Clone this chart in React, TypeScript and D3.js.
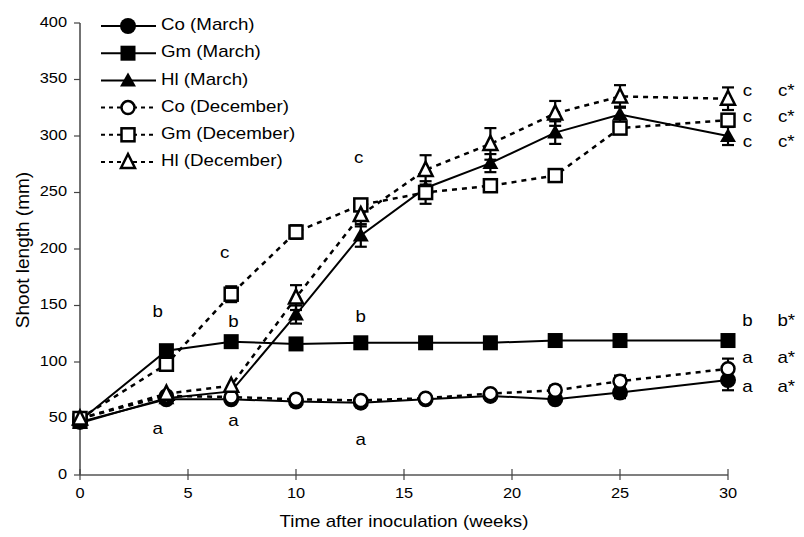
import React from 'react'
import * as d3 from 'd3'

const weeks = [0, 4, 7, 10, 13, 16, 19, 22, 25, 30]

const coMarch = [47, 67, 67, 65, 64, 67, 70, 67, 73, 84]
const gmMarch = [48, 110, 118, 116, 117, 117, 117, 119, 119, 119]
const hlMarch = [46, 68, 74, 142, 212, 254, 276, 303, 319, 300]
const coDec = [50, 70, 69, 67, 66, 68, 72, 75, 83, 94]
const gmDec = [50, 98, 160, 215, 239, 250, 256, 265, 307, 314]
const hlDec = [50, 72, 79, 157, 230, 270, 293, 320, 335, 333]

const coMarchErr = [0, 0, 0, 0, 0, 0, 0, 0, 5, 9]
const gmMarchErr = [0, 0, 0, 0, 0, 0, 0, 0, 0, 0]
const hlMarchErr = [0, 3, 0, 8, 10, 0, 8, 10, 7, 8]
const coDecErr = [0, 0, 0, 0, 0, 0, 3, 4, 5, 9]
const gmDecErr = [0, 0, 7, 6, 4, 10, 0, 0, 0, 0]
const hlDecErr = [0, 0, 0, 11, 10, 13, 14, 11, 10, 10]

const xTicks = [0, 5, 10, 15, 20, 25, 30]
const yTicks = [0, 50, 100, 150, 200, 250, 300, 350, 400]

// letters written in the plot, placed in data units
const noteText = ['c', 'b', 'b', 'c', 'b', 'a', 'a', 'a']
const noteWeek = [6.7, 3.6, 7.1, 12.9, 13, 3.6, 7.1, 13]
const noteValue = [196, 144, 135, 280, 139, 40, 47, 30]

// column of letters at the right end
const sideText = ['c', 'c', 'c', 'b', 'a', 'a']
const sideStar = ['c*', 'c*', 'c*', 'b*', 'a*', 'a*']
const sideValue = [339, 316, 294, 136, 103, 77]

const FONT = '"Liberation Sans", Arial, sans-serif'
const SX = 1.17

type Kind = 'circle' | 'square' | 'triangle'

const series = [
  { name: 'Co (March)', values: coMarch, err: coMarchErr, kind: 'circle' as Kind, open: false },
  { name: 'Gm (March)', values: gmMarch, err: gmMarchErr, kind: 'square' as Kind, open: false },
  { name: 'Hl (March)', values: hlMarch, err: hlMarchErr, kind: 'triangle' as Kind, open: false },
  { name: 'Co (December)', values: coDec, err: coDecErr, kind: 'circle' as Kind, open: true },
  { name: 'Gm (December)', values: gmDec, err: gmDecErr, kind: 'square' as Kind, open: true },
  { name: 'Hl (December)', values: hlDec, err: hlDecErr, kind: 'triangle' as Kind, open: true },
]

const Marker = ({ x, y, kind, open }: { x: number; y: number; kind: Kind; open: boolean }) => {
  const fill = open ? '#fff' : '#000'
  const sw = open ? 2.5 : 0
  if (kind === 'circle') {
    return <circle cx={x} cy={y} r={open ? 6.5 : 8} fill={fill} stroke="#000" strokeWidth={sw} />
  }
  if (kind === 'square') {
    const s = open ? 13 : 15
    return <rect x={x - s / 2} y={y - s / 2} width={s} height={s} fill={fill} stroke="#000" strokeWidth={sw} />
  }
  const w = open ? 7 : 8
  return (
    <path
      d={`M${x},${y - 8} L${x + w},${y + 6} L${x - w},${y + 6} Z`}
      fill={fill}
      stroke="#000"
      strokeWidth={sw}
      strokeLinejoin="miter"
    />
  )
}

const Txt = ({ x, y, size, anchor = 'middle', children }: any) => (
  <g transform={`translate(${x},${y}) scale(${SX},1)`}>
    <text textAnchor={anchor} dominantBaseline="middle" fontSize={size} fontFamily={FONT} fill="#000">
      {children}
    </text>
  </g>
)

export default function App() {
  const x = d3.scaleLinear().domain([0, 30]).range([80, 728])
  const y = d3.scaleLinear().domain([0, 400]).range([475, 23])

  const line = (vals: number[]) =>
    d3
      .line<number>()
      .x((_, i) => x(weeks[i]))
      .y((d) => y(d))(vals) || ''

  return (
    <svg width={804} height={537} style={{ position: 'absolute', left: 0, top: 0, background: '#fff' }}>
      {/* axes */}
      <line x1={80} x2={80} y1={y(400)} y2={y(0)} stroke="#444" strokeWidth={1.5} />
      <line x1={x(0)} x2={x(30)} y1={y(0)} y2={y(0)} stroke="#555" strokeWidth={1.5} />
      {yTicks.map((t) => (
        <g key={'y' + t}>
          <line x1={74} x2={80} y1={y(t)} y2={y(t)} stroke="#444" strokeWidth={1.2} />
          <Txt x={67} y={y(t)} size={14} anchor="end">
            {t}
          </Txt>
        </g>
      ))}
      {xTicks.map((t) => (
        <g key={'x' + t}>
          <line x1={x(t)} x2={x(t)} y1={y(0) - 6} y2={y(0) + 5} stroke="#444" strokeWidth={1.2} />
          <Txt x={x(t)} y={494} size={14}>
            {t}
          </Txt>
        </g>
      ))}
      <Txt x={404} y={523} size={16}>
        Time after inoculation (weeks)
      </Txt>
      <text
        transform="translate(29,250) rotate(-90)"
        textAnchor="middle"
        fontSize={19}
        fontFamily={FONT}
        fill="#000"
      >
        Shoot length (mm)
      </text>

      {/* lines */}
      {series.map((s) => (
        <path
          key={'l' + s.name}
          d={line(s.values)}
          fill="none"
          stroke="#000"
          strokeWidth={s.open ? 2.5 : 2}
          strokeDasharray={s.open ? '5,5' : undefined}
        />
      ))}

      {/* error bars */}
      {series.map((s) =>
        s.values.map((v, i) =>
          s.err[i] > 0 ? (
            <g key={'e' + s.name + i} stroke="#000" strokeWidth={2.2}>
              <line x1={x(weeks[i])} x2={x(weeks[i])} y1={y(v - s.err[i])} y2={y(v + s.err[i])} />
              <line x1={x(weeks[i]) - 6} x2={x(weeks[i]) + 6} y1={y(v - s.err[i])} y2={y(v - s.err[i])} />
              <line x1={x(weeks[i]) - 6} x2={x(weeks[i]) + 6} y1={y(v + s.err[i])} y2={y(v + s.err[i])} />
            </g>
          ) : null
        )
      )}

      {/* markers */}
      {series.map((s) =>
        s.values.map((v, i) => (
          <Marker key={'m' + s.name + i} x={x(weeks[i])} y={y(v)} kind={s.kind} open={s.open} />
        ))
      )}

      {/* letters */}
      {noteText.map((t, i) => (
        <Txt key={'n' + i} x={x(noteWeek[i])} y={y(noteValue[i])} size={16}>
          {t}
        </Txt>
      ))}
      {sideText.map((t, i) => (
        <g key={'s' + i}>
          <Txt x={x(30.9)} y={y(sideValue[i])} size={16}>
            {t}
          </Txt>
          <Txt x={x(32.7)} y={y(sideValue[i])} size={16}>
            {sideStar[i]}
          </Txt>
        </g>
      ))}

      {/* legend */}
      {series.map((s, i) => {
        const ly = 26 + i * 27.2
        return (
          <g key={'lg' + s.name}>
            <line
              x1={101}
              x2={156}
              y1={ly}
              y2={ly}
              stroke="#000"
              strokeWidth={s.open ? 2 : 2}
              strokeDasharray={s.open ? '4,4' : undefined}
            />
            <Marker x={128} y={ly} kind={s.kind} open={s.open} />
            <Txt x={161} y={ly} size={16} anchor="start">
              {s.name}
            </Txt>
          </g>
        )
      })}
    </svg>
  )
}
